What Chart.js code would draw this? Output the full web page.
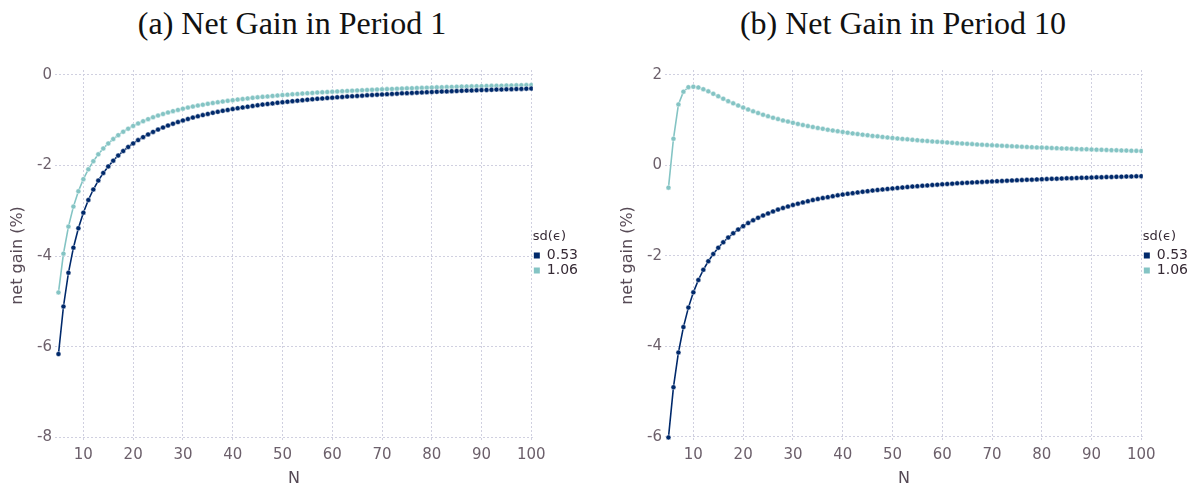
<!DOCTYPE html>
<html>
<head>
<meta charset="utf-8">
<script src="https://cdn.jsdelivr.net/npm/chart.js@4/dist/chart.umd.min.js"></script>
<style>
    html, body { margin: 0; padding: 0; background: #fff; }
    #page { position: relative; width: 1201px; height: 489px; overflow: hidden; }
    .panel-title {
        position: absolute; top: 0; height: 46px; line-height: 46px;
        text-align: center; font-family: "Liberation Serif", serif; font-size: 32px; color: #111;
    }
    canvas { position: absolute; top: 0; }
</style>
</head>
<body>
<div id="page">
    <div class="panel-title" style="left:0;width:584px;">(a) Net Gain in Period 1</div>
    <div class="panel-title" style="left:610px;width:586px;">(b) Net Gain in Period 10</div>
    <canvas id="chartPeriod1" width="600" height="489" style="left:0;"></canvas>
    <canvas id="chartPeriod10" width="591" height="489" style="left:610px;"></canvas>
</div>
<script>
// N = 5 ... 100
const nValues = [
    5, 6, 7, 8, 9, 10, 11, 12, 13, 14, 15, 16, 17, 18, 19, 20, 21, 22, 23, 24,
    25, 26, 27, 28, 29, 30, 31, 32, 33, 34, 35, 36, 37, 38, 39, 40, 41, 42, 43, 44,
    45, 46, 47, 48, 49, 50, 51, 52, 53, 54, 55, 56, 57, 58, 59, 60, 61, 62, 63, 64,
    65, 66, 67, 68, 69, 70, 71, 72, 73, 74, 75, 76, 77, 78, 79, 80, 81, 82, 83, 84,
    85, 86, 87, 88, 89, 90, 91, 92, 93, 94, 95, 96, 97, 98, 99, 100
];
const seriesLabels = ['0.53', '1.06'];
const seriesColors = ['#00296b', '#84c4c4'];

// (a) period 1
const gainP1Low = [
    -6.160, -5.111, -4.367, -3.813, -3.383, -3.040, -2.760, -2.528, -2.331, -2.163,
    -2.018, -1.891, -1.778, -1.679, -1.590, -1.510, -1.438, -1.372, -1.312, -1.257,
    -1.206, -1.160, -1.116, -1.076, -1.039, -1.004, -0.972, -0.941, -0.913, -0.886,
    -0.860, -0.836, -0.814, -0.792, -0.772, -0.753, -0.734, -0.716, -0.700, -0.684,
    -0.669, -0.654, -0.640, -0.627, -0.614, -0.602, -0.590, -0.578, -0.567, -0.557,
    -0.546, -0.537, -0.527, -0.518, -0.509, -0.501, -0.493, -0.485, -0.477, -0.470,
    -0.463, -0.456, -0.449, -0.442, -0.436, -0.430, -0.424, -0.418, -0.412, -0.406,
    -0.401, -0.396, -0.390, -0.385, -0.380, -0.376, -0.371, -0.367, -0.362, -0.358,
    -0.354, -0.349, -0.345, -0.341, -0.338, -0.334, -0.330, -0.327, -0.323, -0.320,
    -0.316, -0.313, -0.310, -0.307, -0.303, -0.300
];
const gainP1High = [
    -4.800, -3.944, -3.347, -2.906, -2.568, -2.300, -2.083, -1.903, -1.751, -1.622,
    -1.511, -1.414, -1.329, -1.253, -1.186, -1.125, -1.070, -1.021, -0.975, -0.934,
    -0.896, -0.861, -0.828, -0.798, -0.771, -0.744, -0.720, -0.697, -0.676, -0.656,
    -0.637, -0.619, -0.602, -0.586, -0.571, -0.556, -0.543, -0.530, -0.517, -0.505,
    -0.494, -0.483, -0.473, -0.462, -0.453, -0.444, -0.435, -0.427, -0.419, -0.411,
    -0.403, -0.396, -0.389, -0.382, -0.376, -0.369, -0.363, -0.357, -0.352, -0.346,
    -0.341, -0.336, -0.331, -0.326, -0.321, -0.316, -0.312, -0.307, -0.303, -0.299,
    -0.295, -0.291, -0.287, -0.284, -0.280, -0.277, -0.273, -0.270, -0.266, -0.263,
    -0.260, -0.257, -0.254, -0.251, -0.248, -0.246, -0.243, -0.240, -0.238, -0.235,
    -0.233, -0.230, -0.228, -0.225, -0.223, -0.221
];

// (b) period 10
const gainP10Low = [
    -6.010, -4.901, -4.134, -3.572, -3.142, -2.805, -2.532, -2.306, -2.117, -1.957,
    -1.819, -1.698, -1.593, -1.499, -1.416, -1.341, -1.274, -1.213, -1.157, -1.106,
    -1.060, -1.016, -0.976, -0.940, -0.906, -0.874, -0.844, -0.816, -0.790, -0.765,
    -0.742, -0.720, -0.700, -0.680, -0.661, -0.644, -0.627, -0.612, -0.596, -0.582,
    -0.568, -0.555, -0.542, -0.530, -0.519, -0.507, -0.497, -0.487, -0.477, -0.467,
    -0.458, -0.449, -0.441, -0.432, -0.424, -0.417, -0.409, -0.402, -0.395, -0.389,
    -0.382, -0.376, -0.370, -0.364, -0.358, -0.352, -0.347, -0.342, -0.336, -0.331,
    -0.327, -0.322, -0.317, -0.313, -0.308, -0.304, -0.300, -0.296, -0.292, -0.288,
    -0.284, -0.281, -0.277, -0.273, -0.270, -0.267, -0.263, -0.260, -0.257, -0.254,
    -0.251, -0.248, -0.245, -0.242, -0.240, -0.237
];
const gainP10High = [
    -0.490, 0.590, 1.350, 1.630, 1.730, 1.740, 1.725, 1.685, 1.638, 1.584,
    1.529, 1.475, 1.422, 1.373, 1.325, 1.280, 1.237, 1.196, 1.159, 1.122,
    1.088, 1.055, 1.025, 0.996, 0.969, 0.942, 0.918, 0.894, 0.871, 0.850,
    0.829, 0.810, 0.791, 0.773, 0.757, 0.740, 0.725, 0.709, 0.694, 0.681,
    0.668, 0.654, 0.643, 0.631, 0.619, 0.608, 0.597, 0.587, 0.577, 0.567,
    0.558, 0.549, 0.540, 0.531, 0.523, 0.516, 0.508, 0.500, 0.493, 0.486,
    0.479, 0.472, 0.465, 0.459, 0.453, 0.447, 0.441, 0.436, 0.430, 0.425,
    0.420, 0.414, 0.409, 0.405, 0.399, 0.395, 0.391, 0.386, 0.382, 0.377,
    0.373, 0.369, 0.365, 0.361, 0.358, 0.353, 0.350, 0.346, 0.343, 0.339,
    0.336, 0.333, 0.329, 0.326, 0.323, 0.320
];

const xTicks = [10, 20, 30, 40, 50, 60, 70, 80, 90, 100];
const yTicksP1 = [-8, -6, -4, -2, 0];
const yTicksP10 = [-6, -4, -2, 0, 2];

const gridColor = '#d0d0e0';
const tickColor = '#6c606b';
const labelColor = '#564a55';

function toPoints(values) {
    return nValues.map((n, i) => ({ x: n, y: values[i] }));
}

function makeDataset(values, idx) {
    return {
        label: seriesLabels[idx],
        data: toPoints(values),
        borderColor: seriesColors[idx],
        backgroundColor: seriesColors[idx],
        borderWidth: 1.6,
        pointRadius: 2.5,
        pointBackgroundColor: seriesColors[idx],
        pointBorderColor: 'rgba(255,255,255,0.8)',
        pointBorderWidth: 0.6,
        tension: 0
    };
}

function createNetGainChart(canvasId, low, high, yTicks, yMin, yMax, rightPad) {
    const ctx = document.getElementById(canvasId).getContext('2d');
    return new Chart(ctx, {
        type: 'line',
        data: {
            datasets: [makeDataset(low, 0), makeDataset(high, 1)]
        },
        options: {
            responsive: false,
            animation: false,
            devicePixelRatio: 1,
            layout: { padding: { top: 70, left: 0, right: rightPad, bottom: 0 } },
            plugins: {
                tooltip: { enabled: false },
                legend: {
                    position: 'right',
                    align: 'start',
                    title: {
                        display: true,
                        text: 'sd(ϵ)',
                        position: 'start',
                        color: '#362a35',
                        font: { family: 'DejaVu Sans', size: 13 },
                        padding: { top: 160, bottom: 2 }
                    },
                    labels: {
                        boxWidth: 6,
                        boxHeight: 6,
                        padding: 1,
                        color: '#4c404b',
                        font: { family: 'DejaVu Sans', size: 14 },
                        generateLabels: (chart) => chart.data.datasets.map((ds, i) => ({
                            text: ds.label,
                            fillStyle: ds.borderColor,
                            strokeStyle: ds.borderColor,
                            lineWidth: 0,
                            datasetIndex: i
                        }))
                    }
                }
            },
            scales: {
                x: {
                    type: 'linear',
                    min: 4.3,
                    max: 100.3,
                    afterBuildTicks: (axis) => { axis.ticks = xTicks.map(v => ({ value: v })); },
                    afterFit: (axis) => { axis.height = 48; },
                    border: { display: false, dash: [2, 2] },
                    grid: { color: gridColor, lineWidth: 1, drawTicks: false },
                    ticks: {
                        color: tickColor,
                        padding: 5,
                        maxRotation: 0,
                        autoSkip: false,
                        font: { family: 'DejaVu Sans', size: 15 }
                    },
                    title: {
                        display: true,
                        text: 'N',
                        color: labelColor,
                        font: { family: 'DejaVu Sans', size: 16 },
                        padding: { top: 0, bottom: 1 }
                    }
                },
                y: {
                    min: yMin,
                    max: yMax,
                    afterBuildTicks: (axis) => { axis.ticks = yTicks.map(v => ({ value: v })); },
                    afterFit: (axis) => { axis.width = 55; },
                    border: { display: false, dash: [2, 2] },
                    grid: { color: gridColor, lineWidth: 1, drawTicks: false },
                    ticks: {
                        color: tickColor,
                        padding: 3,
                        font: { family: 'DejaVu Sans', size: 15 }
                    },
                    title: {
                        display: true,
                        text: 'net gain (%)',
                        color: labelColor,
                        font: { family: 'DejaVu Sans', size: 16 },
                        padding: { top: 8, bottom: 0 }
                    }
                }
            }
        }
    });
}

createNetGainChart('chartPeriod1', gainP1Low, gainP1High, yTicksP1, -8.08, 0.11, 12);
createNetGainChart('chartPeriod10', gainP10Low, gainP10High, yTicksP10, -6.09, 2.11, 3);
</script>
</body>
</html>
